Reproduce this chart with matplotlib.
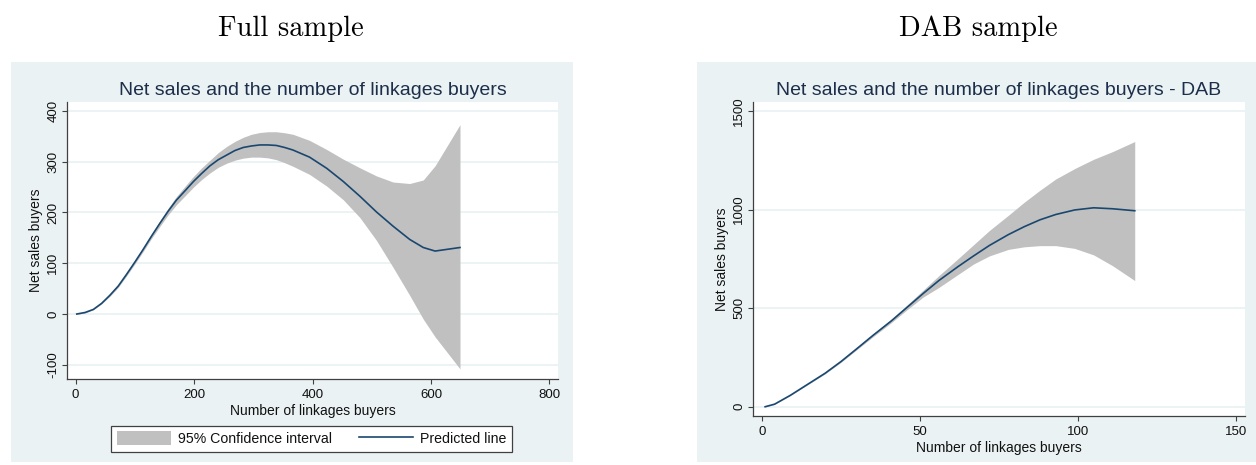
import matplotlib
matplotlib.use("Agg")
import matplotlib.pyplot as plt
from matplotlib.patches import Rectangle, Patch
from matplotlib.lines import Line2D

# ---- Full sample: fitted net sales vs number of linkage buyers ----
full_x = [2, 16, 30, 44, 58, 72, 86, 100, 114, 128, 142, 156, 170, 185, 199,
          213, 227, 241, 255, 269, 283, 297, 311, 325, 339, 353, 367, 395, 424,
          452, 480, 508, 536, 564, 587, 607, 649]
full_pred = [0, 3, 9, 21, 37, 55, 78, 102, 127, 153, 178, 202, 224, 243, 261,
             277, 292, 304, 313, 322, 328, 331, 333, 333, 332, 328, 323, 309, 287,
             261, 232, 201, 173, 147, 131, 124, 131]
full_upper = [0.5, 3.5, 10, 22, 38.5, 57.5, 81, 105.5, 131, 157.5, 183, 208, 231,
              252, 271, 288, 303, 318, 330, 340, 348, 354, 357.5, 359, 359, 357,
              354, 342, 324, 305, 288, 272, 260, 257, 264, 292, 373]
full_lower = [-0.5, 2, 8.5, 20, 35, 52.5, 75, 98.5, 123, 148.5, 172, 195, 215,
              233, 250, 265, 278, 289, 297, 303, 307, 309, 309, 307.5, 304, 298,
              291, 275, 252, 225, 190, 145, 92, 37, -10, -45, -108]

# ---- DAB sample ----
dab_x = [1, 4, 9, 14, 20, 25, 30, 35, 41, 46, 51, 56, 62, 67, 72, 78, 83, 88,
         93, 99, 105, 111, 118]
dab_pred = [0, 13, 58, 109, 170, 229, 294, 360, 436, 505, 574, 640, 710, 765,
            818, 873, 913, 948, 975, 998, 1009, 1004, 994]
dab_upper = [1, 14, 59, 111, 173, 233, 299, 367, 445, 517, 591, 665, 750, 822,
             894, 971, 1037, 1098, 1155, 1208, 1255, 1294, 1345]
dab_lower = [-1, 12, 57, 107, 167, 225, 289, 353, 427, 493, 556, 605, 670, 724,
             765, 798, 811, 817, 817, 803, 770, 715, 640]

full_xticks = [0, 200, 400, 600, 800]
full_yticks = [-100, 0, 100, 200, 300, 400]
dab_xticks = [0, 50, 100, 150]
dab_yticks = [0, 500, 1000, 1500]

W, H = 1256, 465
BG = "#eaf2f3"
NAVY = "#1a476f"
CI_GRAY = "#c0c0c0"
TITLE_C = "#1c2e4a"
SANS = ["Liberation Sans", "DejaVu Sans"]

plt.rcParams["font.family"] = SANS
plt.rcParams["axes.unicode_minus"] = False

fig = plt.figure(figsize=(W / 100, H / 100), dpi=100)
fig.patch.set_facecolor("white")


def px_rect(x0, y0, x1, y1):
    """Figure-fraction rectangle from pixel box (top-left origin)."""
    return [x0 / W, 1 - y1 / H, (x1 - x0) / W, (y1 - y0) / H]


# graph region backgrounds (drawn beneath the axes)
for (x0, y0, x1, y1) in [(11, 62.3, 573, 462), (697.3, 62.3, 1256, 462)]:
    l, b, w, h = px_rect(x0, y0, x1, y1)
    fig.patches.append(Rectangle((l, b), w, h, transform=fig.transFigure,
                                 facecolor=BG, edgecolor="none", zorder=-5))


def style_axes(ax, xticks, yticks, xlim, ylim, ylabel_x, xlabel_y):
    ax.set_zorder(2)
    ax.set_facecolor("white")
    ax.set_xlim(*xlim)
    ax.set_ylim(*ylim)
    ax.set_xticks(xticks)
    ax.set_yticks(yticks)
    for s in ("top", "right"):
        ax.spines[s].set_visible(False)
    for s in ("left", "bottom"):
        ax.spines[s].set_color("#404040")
        ax.spines[s].set_linewidth(0.9)
    ax.yaxis.grid(True, color=BG, linewidth=1.3)
    ax.xaxis.grid(False)
    ax.set_axisbelow(True)
    ax.tick_params(axis="both", direction="out", length=3.6, width=0.8,
                   color="#404040", labelsize=9.5, labelcolor="#111111")
    ax.tick_params(axis="x", pad=3.5)
    ax.tick_params(axis="y", pad=1.8, labelrotation=90)
    for lab in ax.get_yticklabels():
        lab.set_va("center")
    ax.set_xlabel("Number of linkages buyers", fontsize=10, color="#111111")
    ax.set_ylabel("Net sales buyers", fontsize=10, color="#111111")
    ax.xaxis.set_label_coords(0.5, xlabel_y)
    ax.yaxis.set_label_coords(ylabel_x, 0.5)


# ---- left panel ----
ax1 = fig.add_axes(px_rect(66.7, 102.3, 558.3, 379))
ax1.fill_between(full_x, full_lower, full_upper, color=CI_GRAY, lw=0, zorder=2)
ax1.plot(full_x, full_pred, color=NAVY, lw=1.2, zorder=3,
         solid_joinstyle="round")
style_axes(ax1, full_xticks, full_yticks, (-15, 815), (-128, 417),
           -0.0472, -24.5 / 276.7)

# ---- right panel ----
ax2 = fig.add_axes(px_rect(752.5, 102.3, 1245.3, 416))
ax2.fill_between(dab_x, dab_lower, dab_upper, color=CI_GRAY, lw=0, zorder=2)
ax2.plot(dab_x, dab_pred, color=NAVY, lw=1.2, zorder=3,
         solid_joinstyle="round")
style_axes(ax2, dab_xticks, dab_yticks, (-3, 153), (-47, 1544),
           -0.0467, -24.5 / 313.7)

# plot titles
fig.text(312.5 / W, 1 - 90 / H, "Net sales and the number of linkages buyers",
         ha="center", va="center", fontsize=14, color=TITLE_C)
fig.text(999 / W, 1 - 90 / H, "Net sales and the number of linkages buyers - DAB",
         ha="center", va="center", fontsize=14, color=TITLE_C)

# panel headings
fig.text(291 / W, 1 - 29 / H, "Full sample", ha="center", va="center",
         fontsize=20.5, family="cmr10", color="black")
fig.text(978 / W, 1 - 29 / H, "DAB sample", ha="center", va="center",
         fontsize=20.5, family="cmr10", color="black")

# legend for the left panel
handles = [Patch(facecolor=CI_GRAY, edgecolor="none"),
           Line2D([0], [0], color=NAVY, lw=1.2)]
leg = fig.legend(handles, ["95% Confidence interval", "Predicted line"],
                 loc="center", ncol=2,
                 bbox_to_anchor=((111.7 + 511.7) / 2 / W, 1 - (425 + 452.3) / 2 / H),
                 fontsize=10.2, frameon=True, fancybox=False, shadow=False,
                 handlelength=3.8, handleheight=1.05, handletextpad=0.5,
                 columnspacing=1.9, borderpad=0.4)
leg.get_frame().set_edgecolor("#404040")
leg.get_frame().set_linewidth(0.9)
leg.get_frame().set_facecolor("white")
leg.get_frame().set_alpha(1.0)
for t in leg.get_texts():
    t.set_color("#111111")

fig.savefig("out.png", dpi=100)
